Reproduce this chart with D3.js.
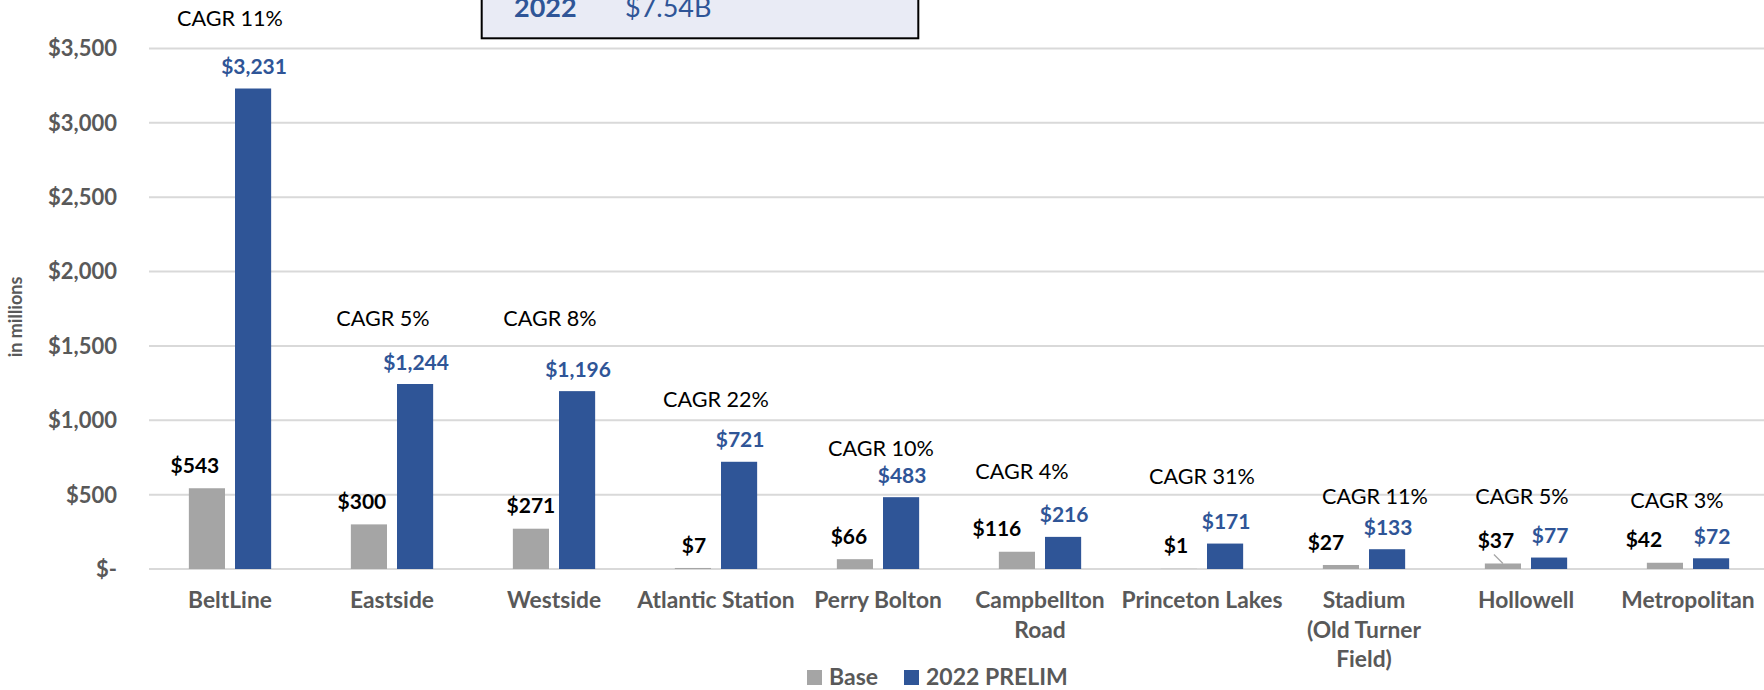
<!DOCTYPE html>
<html>
<head>
<meta charset="utf-8">
<script src="https://cdn.jsdelivr.net/npm/d3@7"></script>
<style>
  body { margin: 0; background: #fff; }
  svg { display: block; font-family: Lato, "Noto Sans", sans-serif; }
</style>
</head>
<body>
<svg width="1764" height="690"></svg>
<script>
var categories = ["BeltLine", "Eastside", "Westside", "Atlantic Station", "Perry Bolton",
                  "Campbellton\nRoad", "Princeton Lakes", "Stadium\n(Old Turner\nField)",
                  "Hollowell", "Metropolitan"];
var seriesNames = ["Base", "2022 PRELIM"];
var baseValues = [543, 300, 271, 7, 66, 116, 1, 27, 37, 42];
var prelimValues = [3231, 1244, 1196, 721, 483, 216, 171, 133, 77, 72];
var cagrLabels = ["CAGR 11%", "CAGR 5%", "CAGR 8%", "CAGR 22%", "CAGR 10%",
                  "CAGR 4%", "CAGR 31%", "CAGR 11%", "CAGR 5%", "CAGR 3%"];
// height (in millions) where each CAGR note sits
var cagrAt = [3705, 1688, 1688, 1143, 814, 659, 625, 491, 491, 464];
var yTicks = [0, 500, 1000, 1500, 2000, 2500, 3000, 3500];
var totalYear = "2022", totalValue = "$7.54B";

// hand nudges of the labels, as in the original slide
var cagrNudge = [0, -9, -4, 0, 3, -18, 0, 11, -4, -11];
var baseNudge = [-12, -7, 0, 1, -6, -20, -3, -15, -7, -21];

var colors = ["#a5a5a5", "#2f5597"];

var svg = d3.select("svg"),
    width = +svg.attr("width");

var x = d3.scaleBand().domain(categories).range([149, 1769]);
var x1 = d3.scaleBand().domain(seriesNames).range([39.85, 122.15]).paddingInner(0.2167);
var y = d3.scaleLinear().domain([0, 3500]).range([569, 48.5]);

// gridlines
svg.append("g").selectAll("line").data(yTicks).enter().append("line")
    .attr("x1", 149).attr("x2", width)
    .attr("y1", function(d) { return y(d); })
    .attr("y2", function(d) { return y(d); })
    .attr("stroke", "#d9d9d9").attr("stroke-width", 2);

// y axis labels
svg.append("g").selectAll("text").data(yTicks).enter().append("text")
    .attr("x", 117)
    .attr("y", function(d) { return y(d); })
    .attr("dy", "0.36em")
    .attr("text-anchor", "end")
    .attr("font-size", 22).attr("font-weight", "bold").attr("fill", "#595959")
    .text(function(d) { return d === 0 ? "$-" : "$" + d3.format(",")(d); });

svg.append("text")
    .attr("transform", "translate(22,317) rotate(-90)")
    .attr("text-anchor", "middle")
    .attr("font-size", 18).attr("font-weight", "bold").attr("fill", "#595959")
    .text("in millions");

// bars
var rows = categories.map(function(c, i) {
  return { cat: c, i: i, vals: [baseValues[i], prelimValues[i]] };
});

var groups = svg.append("g").selectAll("g").data(rows).enter().append("g")
    .attr("transform", function(d) { return "translate(" + x(d.cat) + ",0)"; });

groups.selectAll("rect")
    .data(function(d) { return d.vals.map(function(v, k) { return { v: v, s: seriesNames[k], k: k }; }); })
  .enter().append("rect")
    .attr("x", function(d) { return x1(d.s); })
    .attr("width", x1.bandwidth())
    .attr("y", function(d) { return y(d.v); })
    .attr("height", function(d) { return y(0) - y(d.v); })
    .attr("fill", function(d) { return colors[d.k]; });

// value labels
groups.append("text")
    .attr("x", function(d) { return x1("Base") + x1.bandwidth() / 2 + baseNudge[d.i]; })
    .attr("y", function(d) { return y(d.vals[0]) - 23; })
    .attr("dy", "0.36em")
    .attr("text-anchor", "middle")
    .attr("font-size", 21).attr("font-weight", "bold").attr("fill", "#000")
    .text(function(d) { return "$" + d3.format(",")(d.vals[0]); });

groups.append("text")
    .attr("x", function(d) { return x1("2022 PRELIM") + x1.bandwidth() / 2 + 1; })
    .attr("y", function(d) { return y(d.vals[1]) - 22; })
    .attr("dy", "0.36em")
    .attr("text-anchor", "middle")
    .attr("font-size", 21).attr("font-weight", "bold").attr("fill", colors[1])
    .text(function(d) { return "$" + d3.format(",")(d.vals[1]); });

// leader line for Hollowell base label
var hw = categories.indexOf("Hollowell");
var hx = x(categories[hw]) + x1("Base") + x1.bandwidth() / 2;
svg.append("line")
    .attr("x1", hx - 9).attr("y1", y(baseValues[hw]) - 9)
    .attr("x2", hx).attr("y2", y(baseValues[hw]))
    .attr("stroke", "#a5a5a5").attr("stroke-width", 1.2);

// CAGR notes
groups.append("text")
    .attr("x", function(d) { return x.bandwidth() / 2 + cagrNudge[d.i]; })
    .attr("y", function(d) { return y(cagrAt[d.i]); })
    .attr("dy", "0.36em")
    .attr("text-anchor", "middle")
    .attr("font-size", 21.6).attr("fill", "#000")
    .text(function(d) { return cagrLabels[d.i]; });

// category labels
groups.append("text")
    .attr("text-anchor", "middle")
    .attr("font-size", 22.8).attr("font-weight", "bold").attr("fill", "#595959")
    .each(function(d) {
      var lines = d.cat.split("\n");
      d3.select(this).selectAll("tspan").data(lines).enter().append("tspan")
          .attr("x", x.bandwidth() / 2)
          .attr("y", function(l, j) { return 600 + j * 29.5; })
          .attr("dy", "0.36em")
          .text(function(l) { return l; });
    });

// legend
var legendX = [807, 904];
var legend = svg.append("g").selectAll("g").data(seriesNames).enter().append("g")
    .attr("transform", function(d, i) { return "translate(" + legendX[i] + ",670)"; });
legend.append("rect")
    .attr("width", 15).attr("height", 15)
    .attr("fill", function(d, i) { return colors[i]; });
legend.append("text")
    .attr("x", 22).attr("y", 14.5)
    .attr("font-size", 23).attr("font-weight", "bold").attr("fill", "#595959")
    .text(function(d) { return d; });

// totals box (top cut off, as in the source)
var box = svg.append("g");
box.append("rect")
    .attr("x", 481.7).attr("y", -60)
    .attr("width", 436.6).attr("height", 98.3)
    .attr("fill", "#e9ebf5").attr("stroke", "#000").attr("stroke-width", 2);
box.append("text")
    .attr("x", 514).attr("y", 17)
    .attr("font-size", 27).attr("font-weight", "bold").attr("fill", colors[1])
    .text(totalYear);
box.append("text")
    .attr("x", 625).attr("y", 17)
    .attr("font-size", 27).attr("fill", colors[1])
    .text(totalValue);
</script>
</body>
</html>
